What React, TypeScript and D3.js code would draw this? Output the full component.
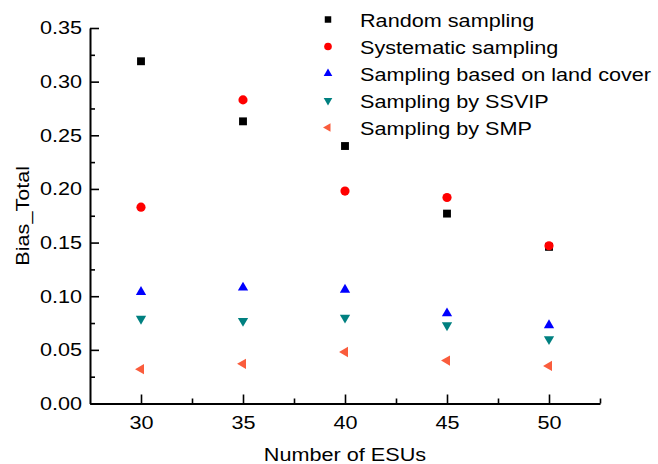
import React, { useEffect, useRef } from 'react';
import * as d3 from 'd3';

const esus = [30, 35, 40, 45, 50];
const randomSampling = [0.319, 0.263, 0.240, 0.177, 0.146];
const systematicSampling = [0.183, 0.283, 0.198, 0.192, 0.147];
const landCoverSampling = [0.104, 0.108, 0.106, 0.084, 0.073];
const ssvipSampling = [0.079, 0.077, 0.080, 0.073, 0.060];
const smpSampling = [0.032, 0.037, 0.048, 0.040, 0.035];
const yTicks = [0, 0.05, 0.1, 0.15, 0.2, 0.25, 0.3, 0.35];
const xTicks = [30, 35, 40, 45, 50];

const series = [
  { name: 'Random sampling', values: randomSampling, color: '#000000', shape: 'square' },
  { name: 'Systematic sampling', values: systematicSampling, color: '#ff0000', shape: 'circle' },
  { name: 'Sampling based on land cover', values: landCoverSampling, color: '#0000ff', shape: 'up' },
  { name: 'Sampling by SSVIP', values: ssvipSampling, color: '#008080', shape: 'down' },
  { name: 'Sampling by SMP', values: smpSampling, color: '#fa5c3c', shape: 'left' },
];

const FONT = '"Liberation Sans", Arial, sans-serif';
const SX = 1.17; // text in the figure is rendered wide

function symbolPath(shape: string, big: boolean) {
  if (shape === 'square') return d3.symbol(d3.symbolSquare, big ? 62 : 42)();
  if (shape === 'circle') return d3.symbol(d3.symbolCircle, big ? 66 : 46)();
  return d3.symbol(d3.symbolTriangle, big ? 46 : 32)();
}
const rot = (shape: string) => (shape === 'down' ? 180 : shape === 'left' ? -90 : 0);

export default function App() {
  const ref = useRef<SVGSVGElement>(null);
  useEffect(() => {
    const svg = d3.select(ref.current);
    svg.selectAll('*').remove();
    const M = { left: 90, top: 28, right: 600, bottom: 403.5 };
    const x = d3.scaleLinear().domain([27.5, 52.5]).range([M.left, M.right]);
    const y = d3.scaleLinear().domain([0, 0.35]).range([M.bottom, M.top]);

    const styleAxis = (a: any) => {
      a.select('.domain').attr('stroke-width', 2).attr('stroke', '#000');
      a.selectAll('line').attr('stroke-width', 1.6).attr('stroke', '#000');
    };

    // minor ticks
    svg.append('g').attr('transform', `translate(${M.left},0)`)
      .call(d3.axisLeft(y).tickValues(d3.range(0.025, 0.35, 0.05)).tickSize(-5).tickFormat(() => ''))
      .call(styleAxis).call(a => a.select('.domain').remove());
    svg.append('g').attr('transform', `translate(0,${M.bottom})`)
      .call(d3.axisBottom(x).tickValues(d3.range(32.5, 53, 5)).tickSize(-5).tickFormat(() => ''))
      .call(styleAxis).call(a => a.select('.domain').remove());

    // major axes
    svg.append('g').attr('transform', `translate(${M.left},0)`)
      .call(d3.axisLeft(y).tickValues(yTicks).tickSize(-9).tickSizeOuter(0).tickPadding(8).tickFormat(d3.format('.2f')))
      .call(styleAxis)
      .call(a => a.selectAll('text').attr('font-family', FONT).attr('font-size', 18.5).attr('fill', '#000')
        .attr('x', -8 / SX).attr('transform', `scale(${SX},1)`));
    svg.append('g').attr('transform', `translate(0,${M.bottom})`)
      .call(d3.axisBottom(x).tickValues(xTicks).tickSize(-9).tickSizeOuter(0).tickPadding(12))
      .call(styleAxis)
      .call(a => a.selectAll('text').attr('font-family', FONT).attr('font-size', 18.5).attr('fill', '#000')
        .attr('transform', `scale(${SX},1)`));

    // axis titles
    svg.append('text').attr('transform', `translate(${(M.left + M.right) / 2},461) scale(${SX},1)`)
      .attr('text-anchor', 'middle').attr('font-family', FONT).attr('font-size', 18.5).text('Number of ESUs');
    svg.append('text').attr('transform', `translate(29,${(M.top + M.bottom) / 2}) rotate(-90) scale(${SX},1)`)
      .attr('text-anchor', 'middle').attr('font-family', FONT).attr('font-size', 18.5).text('Bias_Total');

    // points
    series.forEach(s => {
      svg.append('g').selectAll('path').data(s.values).join('path')
        .attr('d', symbolPath(s.shape, true))
        .attr('fill', s.color)
        .attr('transform', (d, i) => `translate(${x(esus[i])},${y(d)}) rotate(${rot(s.shape)})`);
    });

    // legend
    const lg = svg.append('g');
    series.forEach((s, i) => {
      const cy = 19.5 + i * 27;
      lg.append('path').attr('d', symbolPath(s.shape, false)).attr('fill', s.color)
        .attr('transform', `translate(328,${cy}) rotate(${rot(s.shape)})`);
      lg.append('text').attr('transform', `translate(360,${cy + 7}) scale(${SX},1)`)
        .attr('font-family', FONT).attr('font-size', 18.5).attr('fill', '#000').text(s.name);
    });
  }, []);
  return (
    <svg ref={ref} width={658} height={464} style={{ position: 'absolute', left: 0, top: 0, background: '#fff' }} />
  );
}
